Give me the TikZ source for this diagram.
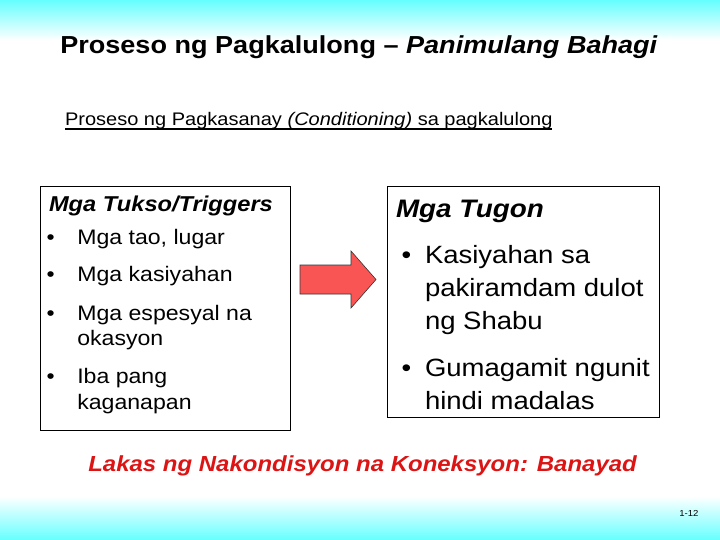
\documentclass[tikz,border=0pt]{standalone}
\usepackage{fontspec}
\setmainfont{Liberation Sans}[FakeStretch=1.1]
\usetikzlibrary{positioning}
\definecolor{skycyan}{RGB}{102,255,255}
\definecolor{titlered}{RGB}{220,20,20}
\definecolor{arrowred}{RGB}{250,85,85}
\newcommand{\fs}[1]{\fontsize{#1}{#1}\selectfont}
\tikzset{
  txt/.style={anchor=base west, inner sep=0pt, outer sep=0pt},
  boxstyle/.style={draw=black, line width=0.9pt, fill=white, anchor=north west, inner sep=0pt},
  lhead/.style={txt, font=\fs{21.5}\bfseries\itshape},
  litem/.style={txt, font=\fs{21}},
  rhead/.style={txt, font=\fs{25.3}\bfseries\itshape},
  ritem/.style={txt, font=\fs{25}},
}
\begin{document}
\begin{tikzpicture}[x=1pt,y=-1pt]
\useasboundingbox (0,0) rectangle (720,540);
\fill[white] (0,0) rectangle (720,540);
\shade[top color=skycyan, bottom color=white] (0,0) rectangle (720,40);
\shade[top color=white, bottom color=skycyan] (0,496) rectangle (720,540);

% title
\node[anchor=base, inner sep=0pt, font=\fs{24.6}\bfseries] (title) at (359,54)
  {Proseso ng Pagkalulong – \textit{Panimulang Bahagi}};

% subtitle
\node[txt, font=\fs{18.2}] (sub) at (65,126)
  {Proseso ng Pagkasanay \textit{(Conditioning)} sa pagkalulong};
\draw[line width=1.1pt] ([yshift=-3pt]sub.base west) -- ([yshift=-3pt]sub.base east);

% boxes
\node[boxstyle, minimum width=250pt, minimum height=244pt] (lbox) at (40,186) {};
\node[boxstyle, minimum width=272pt, minimum height=231pt] (rbox) at (387,186) {};

% left box content
\node[lhead] (lh) at (49,211.7) {Mga Tukso/Triggers};
\node[litem] (lb1) at (46.5,244) {•};
\node[litem] (l1) at (77.3,244) {Mga tao, lugar};
\node[litem] (lb2) at (46.5,281.7) {•};
\node[litem] (l2) at (77.3,281.7) {Mga kasiyahan};
\node[litem] (lb3) at (46.5,320) {•};
\node[litem] (l3a) at (77.3,320) {Mga espesyal na};
\node[litem] (l3b) at (77.3,345.7) {okasyon};
\node[litem] (lb4) at (46.5,383.3) {•};
\node[litem] (l4a) at (77.3,383.3) {Iba pang};
\node[litem] (l4b) at (77.3,409.3) {kaganapan};

% right box content
\node[rhead] (rh) at (396,217.3) {Mga Tugon};
\node[ritem] (rb1) at (401.5,263.3) {•};
\node[ritem] (r1a) at (425,263.3) {Kasiyahan sa};
\node[ritem] (r1b) at (425,296.7) {pakiramdam dulot};
\node[ritem] (r1c) at (425,329.5) {ng Shabu};
\node[ritem] (rb2) at (401.5,376.7) {•};
\node[ritem] (r2a) at (425,376.7) {Gumagamit ngunit};
\node[ritem] (r2b) at (425,409.3) {hindi madalas};

% arrow
\coordinate (atip) at (376,279.5);
\filldraw[fill=arrowred, draw=black!80, line width=0.6pt, line join=miter]
  (300,265) -- (351,265) -- (351,251) -- (atip) -- (351,308) -- (351,294) -- (300,294) -- cycle;

% bottom red text
\node[txt, font=\fs{21.8}\bfseries\itshape, text=titlered] (strength) at (88.3,471)
  {Lakas ng Nakondisyon na Koneksyon: Banayad};

% page number
\node[txt, font=\fs{8.7}] (pgnum) at (679.3,516) {1-12};
\end{tikzpicture}
\end{document}
